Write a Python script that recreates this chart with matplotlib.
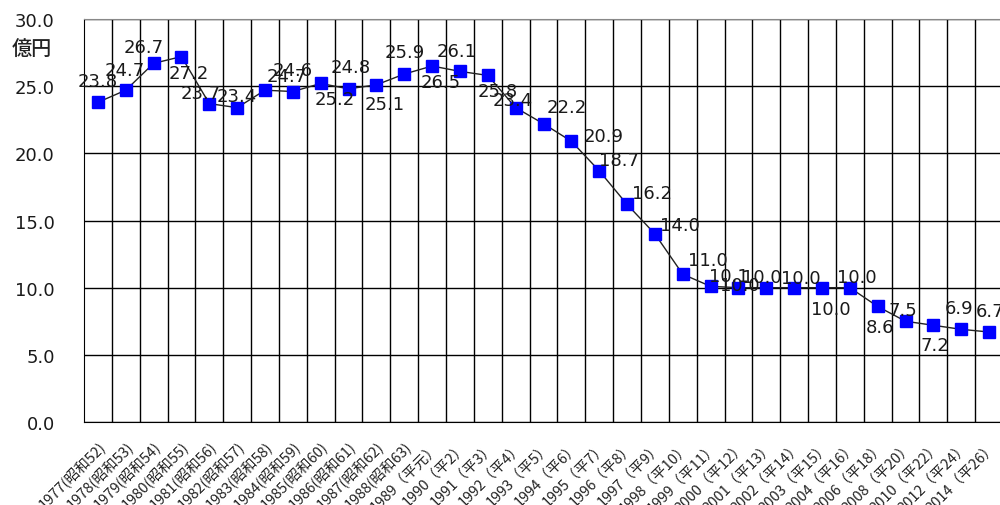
import matplotlib
matplotlib.use("Agg")
import matplotlib.pyplot as plt
import numpy as np

plt.rcParams['font.family'] = ['DejaVu Sans', 'Noto Sans CJK JP']

# データ
years = [1977, 1978, 1979, 1980, 1981, 1982, 1983, 1984, 1985, 1986, 1987, 1988,
         1989, 1990, 1991, 1992, 1993, 1994, 1995, 1996, 1997, 1998, 1999, 2000,
         2001, 2002, 2003, 2004, 2006, 2008, 2010, 2012, 2014]
eras = ["昭和52", "昭和53", "昭和54", "昭和55", "昭和56", "昭和57", "昭和58", "昭和59",
        "昭和60", "昭和61", "昭和62", "昭和63", "平元", "平2", "平3", "平4", "平5",
        "平6", "平7", "平8", "平9", "平10", "平11", "平12", "平13", "平14", "平15",
        "平16", "平18", "平20", "平22", "平24", "平26"]
values = [23.8, 24.7, 26.7, 27.2, 23.7, 23.4, 24.7, 24.6, 25.2, 24.8, 25.1, 25.9,
          26.5, 26.1, 25.8, 23.4, 22.2, 20.9, 18.7, 16.2, 14.0, 11.0, 10.1, 10.0,
          10.0, 10.0, 10.0, 10.0, 8.6, 7.5, 7.2, 6.9, 6.7]

# position des etiquettes (pixels, dx, dy vers le bas)
label_offsets = [(0, -21), (-1, -20), (-10, -16), (7, 16), (-9, -11), (0, -12),
                 (22, -14), (0, -22), (14, 16), (2, -22), (8, 19), (0, -22),
                 (9, 16), (-3, -20), (10, 16), (-3, -8), (23, -17), (32, -5),
                 (20, -11), (25, -11), (25, -9), (25, -14), (18, -10), (1, -3),
                 (-4, -11), (7, -10), (9, 21), (7, -11), (2, 21), (-3, -11),
                 (1, 20), (-2, -21), (1, -21)]

tick_labels = []
for y, e in zip(years, eras):
    if e.startswith("昭和"):
        tick_labels.append(f"{y}({e})")
    else:
        tick_labels.append(f"{y}（{e}）")

x = np.arange(len(values))

fig = plt.figure(figsize=(10, 5.06), dpi=100)
ax = fig.add_axes([0.084, 0.164, 0.919, 0.7965])

ax.plot(x, values, color='#222222', lw=1, marker='s', markersize=8.5,
        markerfacecolor='#0000ff', markeredgecolor='#0000ff', zorder=3)

for xi, v, (dx, dy) in zip(x, values, label_offsets):
    ax.annotate(f"{v:.1f}", (xi, v), xytext=(dx, -dy), textcoords='offset pixels',
                ha='center', va='center', fontsize=13, color='#1a1a1a', zorder=4)

ax.set_xlim(-0.5, len(values) - 0.5)
ax.set_ylim(0, 30)
ax.set_yticks(np.arange(0, 31, 5))
ax.set_yticklabels([f"{t:.1f}" for t in np.arange(0, 31, 5)], fontsize=13, color='#1a1a1a')
ax.set_xticks(x)
ax.set_xticklabels(tick_labels, rotation=45, ha='right', va='top', rotation_mode='anchor',
                   fontsize=10.5, family=['Noto Sans CJK JP'], color='#222222')
ax.set_xticks(x + 0.5, minor=True)
ax.tick_params(axis='both', which='both', length=0)
ax.tick_params(axis='y', pad=21)
ax.tick_params(axis='x', pad=12)

ax.grid(axis='x', which='minor', color='black', lw=1)
ax.grid(axis='y', which='major', color='black', lw=1)
ax.set_axisbelow(True)
for s in ['left', 'bottom']:
    ax.spines[s].set_color('black')
ax.spines['top'].set_color('#888888')

fig.text(0.012, 1 - 50 / 506, "億円", family=['Noto Sans CJK JP'], fontsize=14.5,
         fontweight='medium', ha='left', va='center', color='#222222')

plt.savefig("out.png", dpi=100)
